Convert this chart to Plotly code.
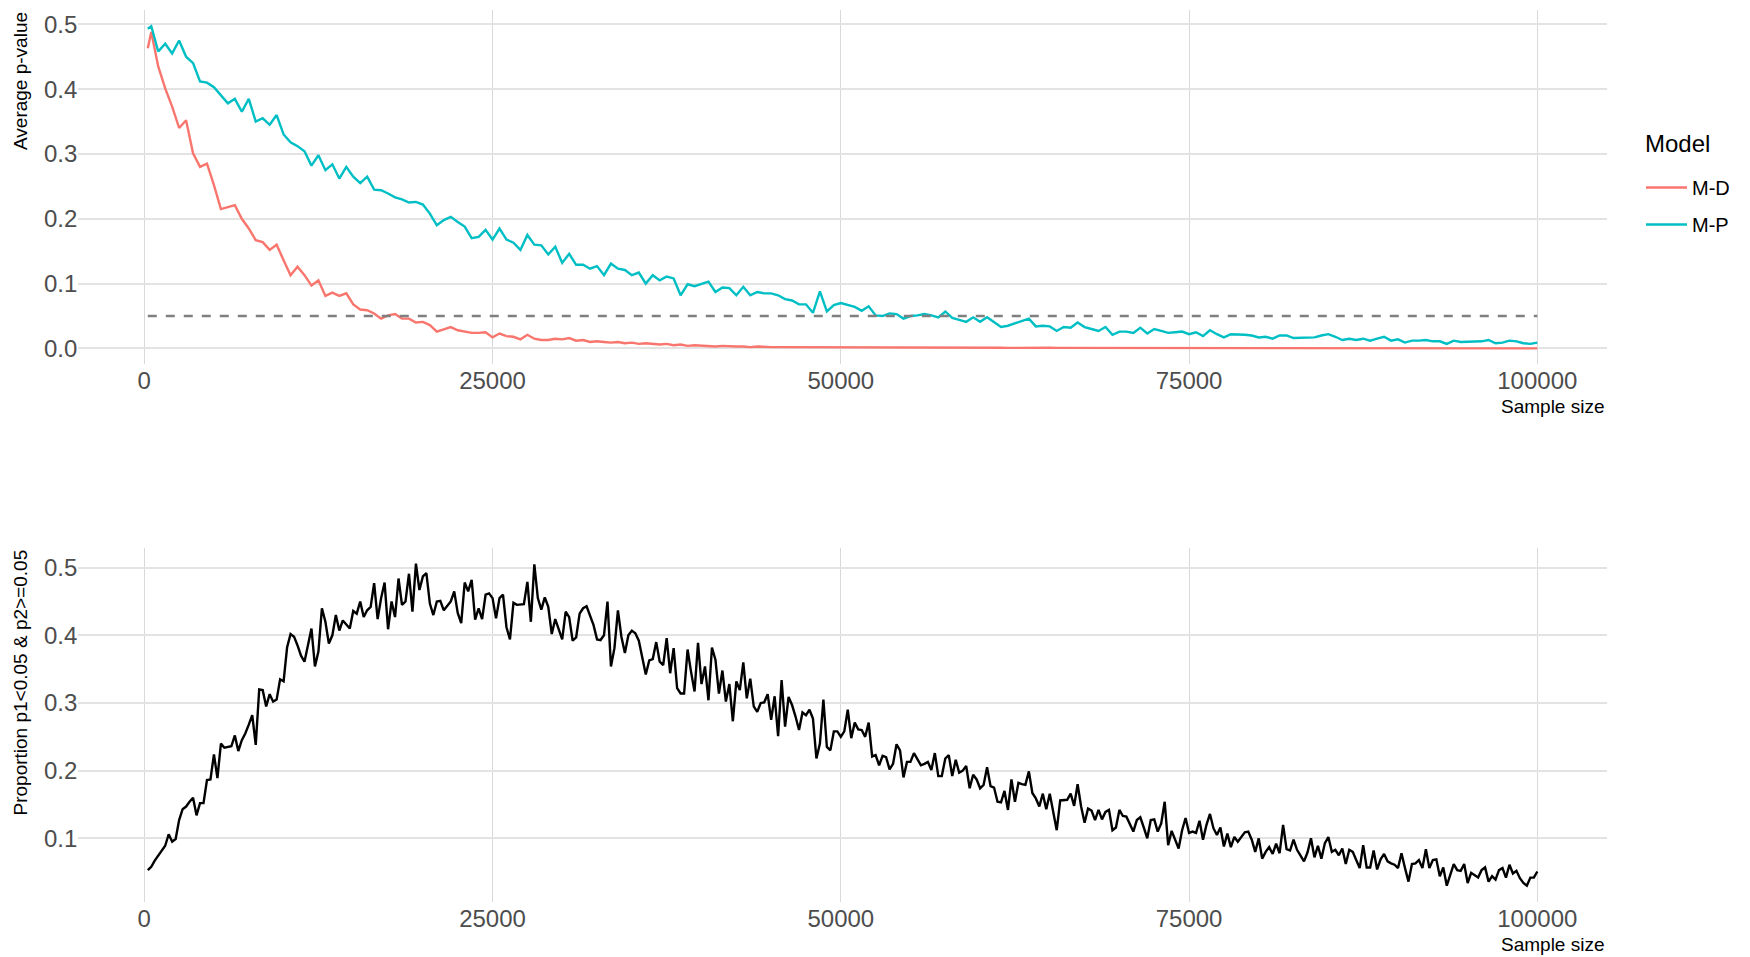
import plotly.graph_objects as go

# ---------------- data ----------------
# top panel: sample sizes 250, 500, 1000, ..., 100000
sample_top = [250] + list(range(500, 100001, 500))

md_pvalue = [
    0.463,
    0.488, 0.435, 0.401, 0.373, 0.340, 0.352, 0.301, 0.280, 0.285, 0.252,
    0.215, 0.218, 0.221, 0.200, 0.185, 0.167, 0.164, 0.152, 0.160, 0.136,
    0.113, 0.126, 0.113, 0.097, 0.105, 0.081, 0.086, 0.081, 0.085, 0.068,
    0.060, 0.059, 0.054, 0.046, 0.051, 0.053, 0.046, 0.046, 0.040, 0.041,
    0.036, 0.026, 0.029, 0.033, 0.028, 0.026, 0.024, 0.024, 0.025, 0.017,
    0.023, 0.019, 0.018, 0.014, 0.021, 0.015, 0.013, 0.013, 0.015, 0.014,
    0.016, 0.012, 0.013, 0.010, 0.011, 0.010, 0.009, 0.010, 0.008, 0.009,
    0.007, 0.008, 0.007, 0.006, 0.007, 0.005, 0.006, 0.004, 0.005, 0.004,
    0.004, 0.003, 0.004, 0.003, 0.003, 0.003, 0.002, 0.003, 0.002, 0.002,
    0.002, 0.002, 0.002, 0.002, 0.001, 0.002, 0.002, 0.001, 0.002, 0.001,
    0.002, 0.001, 0.001, 0.002, 0.001, 0.001, 0.001, 0.002, 0.001, 0.001,
    0.001, 0.001, 0.001, 0.002, 0.001, 0.001, 0.001, 0.001, 0.001, 0.001,
    0.001, 0.001, 0.001, 0.0008, 0.001, 0.0008, 0.001, 0.0008, 0.0008, 0.001,
    0.0008, 0.0008, 0.0007, 0.0008, 0.0007, 0.0008, 0.0006, 0.0007, 0.0007, 0.0006,
    0.0007, 0.0006, 0.0006, 0.0007, 0.0006, 0.0005, 0.0006, 0.0006, 0.0005, 0.0006,
    0.0005, 0.0005, 0.0006, 0.0005, 0.0005, 0.0005, 0.0004, 0.0005, 0.0005, 0.0004,
    0.0005, 0.0004, 0.0004, 0.0005, 0.0004, 0.0004, 0.0004, 0.0003, 0.0004, 0.0004,
    0.0003, 0.0004, 0.0003, 0.0003, 0.0004, 0.0003, 0.0003, 0.0003, 0.0003, 0.0002,
    0.0003, 0.0003, 0.0002, 0.0003, 0.0002, 0.0002, 0.0003, 0.0002, 0.0002, 0.0002,
    0.0002, 0.0002, 0.0002, 0.0001, 0.0002, 0.0002, 0.0001, 0.0002, 0.0001, 0.0001,
]

mp_pvalue = [
    0.493,
    0.497, 0.458, 0.470, 0.455, 0.475, 0.450, 0.440, 0.412, 0.410, 0.403,
    0.391, 0.378, 0.385, 0.365, 0.385, 0.350, 0.355, 0.345, 0.360, 0.330,
    0.318, 0.312, 0.304, 0.282, 0.298, 0.275, 0.284, 0.262, 0.280, 0.265,
    0.255, 0.265, 0.245, 0.244, 0.239, 0.233, 0.230, 0.225, 0.226, 0.222,
    0.208, 0.190, 0.198, 0.203, 0.195, 0.188, 0.170, 0.172, 0.183, 0.168,
    0.185, 0.168, 0.163, 0.152, 0.175, 0.160, 0.159, 0.145, 0.157, 0.132,
    0.146, 0.129, 0.129, 0.123, 0.127, 0.113, 0.131, 0.123, 0.121, 0.113,
    0.117, 0.100, 0.113, 0.105, 0.111, 0.108, 0.082, 0.099, 0.096, 0.100,
    0.103, 0.087, 0.094, 0.093, 0.082, 0.095, 0.082, 0.087, 0.085, 0.085,
    0.082, 0.076, 0.074, 0.068, 0.068, 0.055, 0.088, 0.057, 0.067, 0.070,
    0.067, 0.064, 0.058, 0.065, 0.051, 0.050, 0.054, 0.053, 0.046, 0.050,
    0.051, 0.053, 0.051, 0.048, 0.057, 0.047, 0.044, 0.041, 0.048, 0.041,
    0.048, 0.041, 0.033, 0.035, 0.039, 0.042, 0.046, 0.034, 0.035, 0.034,
    0.027, 0.033, 0.032, 0.040, 0.033, 0.030, 0.027, 0.033, 0.021, 0.026,
    0.026, 0.024, 0.032, 0.023, 0.030, 0.027, 0.024, 0.025, 0.026, 0.022,
    0.025, 0.019, 0.028, 0.022, 0.017, 0.022, 0.022, 0.021, 0.020, 0.017,
    0.018, 0.015, 0.020, 0.020, 0.016, 0.016, 0.016, 0.017, 0.020, 0.022,
    0.018, 0.013, 0.015, 0.013, 0.015, 0.012, 0.015, 0.018, 0.012, 0.014,
    0.009, 0.012, 0.012, 0.013, 0.011, 0.011, 0.007, 0.012, 0.010, 0.010,
    0.011, 0.011, 0.013, 0.008, 0.009, 0.012, 0.011, 0.008, 0.007, 0.009,
]

threshold = 0.05

# bottom panel: sample sizes 250, 500, ..., 100000
sample_bottom = list(range(250, 100001, 250))

proportion = [
    0.053, 0.058, 0.067, 0.074, 0.082, 0.089, 0.106, 0.095, 0.099, 0.127, 0.143, 0.147, 0.154, 0.160, 0.134, 0.152, 0.152, 0.186, 0.187, 0.224,
    0.189, 0.240, 0.234, 0.235, 0.236, 0.252, 0.229, 0.245, 0.255, 0.268, 0.282, 0.238, 0.320, 0.319, 0.295, 0.313, 0.302, 0.305, 0.335, 0.332,
    0.382, 0.402, 0.398, 0.385, 0.370, 0.361, 0.386, 0.410, 0.354, 0.376, 0.440, 0.420, 0.388, 0.400, 0.430, 0.407, 0.422, 0.416, 0.410, 0.436,
    0.432, 0.450, 0.427, 0.437, 0.442, 0.477, 0.424, 0.455, 0.478, 0.409, 0.450, 0.427, 0.484, 0.445, 0.450, 0.491, 0.435, 0.506, 0.467, 0.487,
    0.492, 0.447, 0.430, 0.450, 0.451, 0.437, 0.443, 0.450, 0.465, 0.433, 0.418, 0.478, 0.465, 0.482, 0.423, 0.440, 0.424, 0.460, 0.462, 0.455,
    0.425, 0.455, 0.460, 0.412, 0.394, 0.448, 0.445, 0.445, 0.446, 0.479, 0.420, 0.505, 0.455, 0.438, 0.456, 0.442, 0.402, 0.424, 0.408, 0.394,
    0.435, 0.427, 0.392, 0.397, 0.432, 0.440, 0.443, 0.430, 0.415, 0.394, 0.393, 0.400, 0.450, 0.354, 0.381, 0.437, 0.398, 0.374, 0.400, 0.407,
    0.403, 0.392, 0.366, 0.342, 0.363, 0.365, 0.390, 0.361, 0.356, 0.396, 0.344, 0.381, 0.322, 0.314, 0.314, 0.379, 0.346, 0.317, 0.389, 0.328,
    0.354, 0.304, 0.382, 0.364, 0.314, 0.348, 0.302, 0.328, 0.273, 0.332, 0.319, 0.360, 0.307, 0.336, 0.295, 0.287, 0.300, 0.301, 0.313, 0.275,
    0.310, 0.251, 0.334, 0.265, 0.309, 0.297, 0.280, 0.260, 0.286, 0.282, 0.290, 0.277, 0.218, 0.240, 0.305, 0.235, 0.230, 0.258, 0.258, 0.250,
    0.258, 0.290, 0.248, 0.271, 0.261, 0.260, 0.250, 0.271, 0.221, 0.223, 0.208, 0.222, 0.220, 0.202, 0.210, 0.239, 0.230, 0.190, 0.213, 0.213,
    0.226, 0.217, 0.208, 0.210, 0.213, 0.201, 0.226, 0.192, 0.192, 0.218, 0.223, 0.192, 0.216, 0.197, 0.200, 0.207, 0.174, 0.194, 0.187, 0.174,
    0.179, 0.205, 0.177, 0.175, 0.154, 0.153, 0.170, 0.142, 0.187, 0.154, 0.182, 0.180, 0.179, 0.199, 0.167, 0.159, 0.147, 0.166, 0.143, 0.166,
    0.138, 0.112, 0.156, 0.156, 0.157, 0.166, 0.148, 0.180, 0.147, 0.123, 0.144, 0.141, 0.127, 0.142, 0.128, 0.139, 0.142, 0.112, 0.116, 0.142,
    0.133, 0.132, 0.121, 0.110, 0.127, 0.131, 0.116, 0.100, 0.127, 0.128, 0.110, 0.122, 0.154, 0.090, 0.111, 0.099, 0.085, 0.112, 0.130, 0.108,
    0.110, 0.108, 0.126, 0.098, 0.120, 0.136, 0.115, 0.105, 0.116, 0.088, 0.107, 0.087, 0.102, 0.095, 0.103, 0.109, 0.110, 0.098, 0.080, 0.100,
    0.070, 0.080, 0.087, 0.077, 0.092, 0.078, 0.120, 0.084, 0.082, 0.098, 0.083, 0.074, 0.066, 0.079, 0.100, 0.072, 0.089, 0.070, 0.093, 0.102,
    0.080, 0.083, 0.075, 0.085, 0.062, 0.083, 0.080, 0.068, 0.056, 0.090, 0.057, 0.057, 0.082, 0.054, 0.069, 0.077, 0.066, 0.063, 0.061, 0.056,
    0.078, 0.056, 0.036, 0.062, 0.063, 0.068, 0.056, 0.084, 0.056, 0.068, 0.069, 0.044, 0.057, 0.030, 0.046, 0.062, 0.053, 0.052, 0.062, 0.034,
    0.049, 0.046, 0.042, 0.053, 0.057, 0.036, 0.044, 0.039, 0.053, 0.056, 0.042, 0.061, 0.048, 0.052, 0.041, 0.034, 0.030, 0.042, 0.042, 0.051,
]

x_ticks = [0, 25000, 50000, 75000, 100000]
x_tick_text = ["0", "25000", "50000", "75000", "100000"]
y_ticks_top = [0.0, 0.1, 0.2, 0.3, 0.4, 0.5]
y_tick_text_top = ["0.0", "0.1", "0.2", "0.3", "0.4", "0.5"]
y_ticks_bottom = [0.1, 0.2, 0.3, 0.4, 0.5]
y_tick_text_bottom = ["0.1", "0.2", "0.3", "0.4", "0.5"]

# ---------------- figure ----------------
W, H = 1750, 957
FONT = "Liberation Sans, Arial, sans-serif"
RED = "#F8766D"
CYAN = "#00BFC4"

fig = go.Figure()
fig.add_trace(go.Scatter(x=sample_top, y=md_pvalue, mode="lines", name="M-D",
                         legendgroup="md", line=dict(color=RED, width=2.4),
                         xaxis="x", yaxis="y"))
fig.add_trace(go.Scatter(x=sample_top, y=mp_pvalue, mode="lines", name="M-P",
                         legendgroup="mp", line=dict(color=CYAN, width=2.4),
                         xaxis="x", yaxis="y"))
fig.add_trace(go.Scatter(x=[sample_top[0], sample_top[-1]], y=[threshold, threshold],
                         mode="lines", showlegend=False, hoverinfo="skip",
                         line=dict(color="#7F7F7F", width=2.5, dash="9px,9px"),
                         xaxis="x", yaxis="y"))
fig.add_trace(go.Scatter(x=sample_bottom, y=proportion, mode="lines", showlegend=False,
                         line=dict(color="black", width=2.4), xaxis="x2", yaxis="y2"))

xdom = [78.3 / W, 1606.8 / W]
ydom_top = [1 - 364 / H, 1 - 10 / H]
ydom_bot = [1 - 901.8 / H, 1 - 547.5 / H]

x_common = dict(domain=xdom, range=[-4737.5, 104987.5], tickmode="array",
                tickvals=x_ticks, ticktext=x_tick_text, showgrid=True,
                gridcolor="#D9D9D9", gridwidth=1, zeroline=False, showline=False,
                ticks="", tickfont=dict(family=FONT, size=24, color="#4D4D4D"))
y_common = dict(showgrid=True, gridcolor="#E3E3E3", gridwidth=1.6, zeroline=False,
                showline=False, ticks="", tickmode="array",
                tickfont=dict(family=FONT, size=24, color="#4D4D4D"))

fig.update_layout(
    width=W, height=H,
    margin=dict(l=0, r=0, t=0, b=0),
    paper_bgcolor="white", plot_bgcolor="white",
    font=dict(family=FONT, color="black"),
    xaxis=dict(anchor="y", **x_common),
    yaxis=dict(anchor="x", domain=ydom_top, range=[-0.024, 0.522],
               tickvals=y_ticks_top, ticktext=y_tick_text_top, **y_common),
    xaxis2=dict(anchor="y2", **x_common),
    yaxis2=dict(anchor="x2", domain=ydom_bot, range=[0.0062, 0.5298],
                tickvals=y_ticks_bottom, ticktext=y_tick_text_bottom, **y_common),
    showlegend=True,
    legend=dict(x=1641 / W, y=1 - 168 / H, xanchor="left", yanchor="top",
                font=dict(family=FONT, size=20, color="black"),
                itemwidth=41, tracegroupgap=8, traceorder="grouped",
                bgcolor="rgba(0,0,0,0)", borderwidth=0),
    annotations=[
        dict(text="Model", xref="paper", yref="paper", x=1643 / W, y=1 - 143 / H,
             xanchor="left", yanchor="middle", showarrow=False,
             font=dict(family=FONT, size=24, color="black")),
        dict(text="Average p-value", xref="paper", yref="paper", x=20 / W, y=1 - 10 / H,
             xanchor="center", yanchor="top", textangle=-90, showarrow=False,
             font=dict(family=FONT, size=19, color="black")),
        dict(text="Sample size", xref="paper", yref="paper", x=1606.8 / W, y=1 - 406 / H,
             xanchor="right", yanchor="middle", showarrow=False,
             font=dict(family=FONT, size=19, color="black")),
        dict(text="Proportion p1<0.05 & p2>=0.05", xref="paper", yref="paper", x=20 / W,
             y=1 - 547.5 / H, xanchor="center", yanchor="top", textangle=-90, showarrow=False,
             font=dict(family=FONT, size=19, color="black")),
        dict(text="Sample size", xref="paper", yref="paper", x=1606.8 / W, y=1 - 944 / H,
             xanchor="right", yanchor="middle", showarrow=False,
             font=dict(family=FONT, size=19, color="black")),
    ],
)

fig.write_html("out.html", config={"displayModeBar": False},
               post_script="document.body.style.margin='0';")
